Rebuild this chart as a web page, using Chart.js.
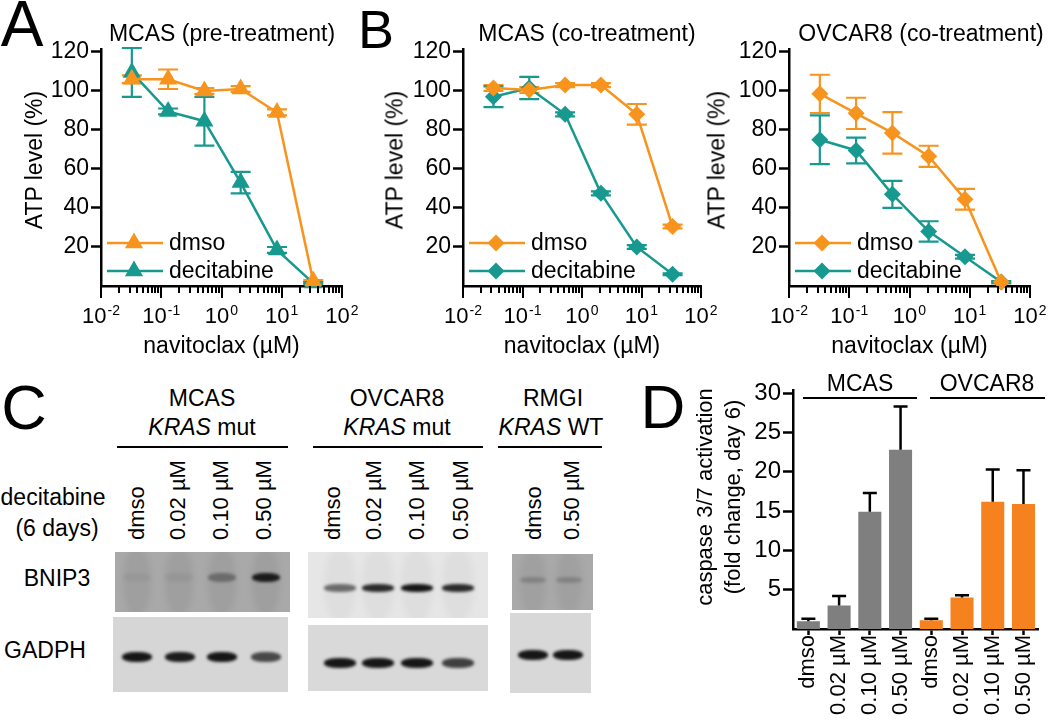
<!DOCTYPE html>
<html>
<head>
<meta charset="utf-8">
<script src="https://cdn.jsdelivr.net/npm/chart.js@4.4.0/dist/chart.umd.min.js"></script>
<style>
  body { margin: 0; background: #fff; }
  #fig { position: relative; width: 1050px; height: 724px; overflow: hidden;
         font-family: "Liberation Sans", Arial, sans-serif; color: #000; }
  #fig canvas { position: absolute; }
  .t { position: absolute; white-space: nowrap; line-height: 1; transform: translate(-50%, -50%); }
  .r { position: absolute; white-space: nowrap; line-height: 1; transform: translate(-50%, -50%) rotate(-90deg); }
  .lane { position: absolute; white-space: nowrap; line-height: 1; transform-origin: 0 0;
          transform: rotate(-90deg) translate(0, -50%); }
  .rule { position: absolute; height: 2px; background: #000; }
  .blot { position: absolute; overflow: hidden; }
  .band { position: absolute; border-radius: 45%; filter: blur(1.6px); }
</style>
</head>
<body>
<div id="fig"></div>
<script>
// ---- data ----
const doses = [0.0325, 0.13, 0.52, 2.08, 8.33, 33.3];   // navitoclax, µM

// A: MCAS pre-treatment
const preDmso = [106, 106, 100, 101, 89, 2.5];
const preDmsoErr = [2, 5, 1.5, 1.5, 1.5, 0.5];
const preDec = [109.5, 89.5, 84.5, 53, 18.5, 1.5];
const preDecErr = [12.5, 1.5, 12.5, 5.5, 1.5, 0.5];

// B: MCAS co-treatment
const coMcasDmso = [101.5, 100.5, 103, 103, 88, 30.5];
const coMcasDmsoErr = [1.5, 1.5, 1, 1, 5.3, 1];
const coMcasDec = [97, 101.5, 88, 47.5, 20, 6];
const coMcasDecErr = [5.3, 5.7, 1, 1, 1, 0.5];

// B: OVCAR8 co-treatment
const coOvDmso = [98.5, 88.5, 78.5, 66.5, 44.5, 2];
const coOvDmsoErr = [9.8, 8, 10.6, 5.4, 5.3, 0.5];
const coOvDec = [75, 69.5, 47, 28, 15, 2];
const coOvDecErr = [12.5, 6.6, 6.9, 5.2, 1, 0.5];

const atpTicks = [20, 40, 60, 80, 100, 120];
const decades = [-2, -1, 0, 1, 2];

// D: caspase 3/7 activation
const caspLabels = ['dmso', '0.02 µM', '0.10 µM', '0.50 µM', 'dmso', '0.02 µM', '0.10 µM', '0.50 µM'];
const mcasCasp = [1.0, 3.0, 14.9, 22.8];
const mcasCaspErr = [0.3, 1.2, 2.4, 5.5];
const ovcarCasp = [1.1, 4.0, 16.2, 15.9];
const ovcarCaspErr = [0.2, 0.3, 4.1, 4.3];
const caspTicks = [5, 10, 15, 20, 25, 30];

// C: blot band densities (0..1)
const mcasBnip3 = [0.04, 0.06, 0.35, 0.9];
const mcasGapdh = [0.95, 0.92, 0.95, 0.7];
const ovBnip3 = [0.55, 0.85, 0.95, 0.85];
const ovGapdh = [0.95, 0.95, 0.95, 0.75];
const rmgiBnip3 = [0.2, 0.2];
const rmgiGapdh = [0.95, 0.95];

const ORANGE = '#F7941D', TEAL = '#17998F', GRAY = '#7F7F7F', BAR_ORANGE = '#F5821F';
const FONT = '"Liberation Sans", Arial, sans-serif';
Chart.defaults.font.family = FONT;
Chart.defaults.color = '#000';

const fig = document.getElementById('fig');

function addText(html, cx, cy, size, cls) {
  const d = document.createElement('div');
  d.className = cls || 't';
  d.style.left = cx + 'px';
  d.style.top = cy + 'px';
  d.style.fontSize = size + 'px';
  d.innerHTML = html;
  fig.appendChild(d);
  return d;
}
function addRule(x1, x2, y) {
  const d = document.createElement('div');
  d.className = 'rule';
  d.style.left = x1 + 'px'; d.style.width = (x2 - x1) + 'px'; d.style.top = y + 'px';
  fig.appendChild(d);
}
function addCanvas(x, y, w, h) {
  const cv = document.createElement('canvas');
  cv.width = w; cv.height = h;
  cv.style.left = x + 'px'; cv.style.top = y + 'px';
  fig.appendChild(cv);
  return cv;
}

function marker(ctx, style, x, y, r) {
  ctx.beginPath();
  if (style === 'triangle') {
    ctx.moveTo(x, y - r);
    ctx.lineTo(x + r * 0.866, y + r / 2);
    ctx.lineTo(x - r * 0.866, y + r / 2);
  } else {
    ctx.moveTo(x, y - r); ctx.lineTo(x + r, y); ctx.lineTo(x, y + r); ctx.lineTo(x - r, y);
  }
  ctx.closePath();
  ctx.fill();
}

// error bars under the curves
const errorBars = {
  id: 'errorBars',
  beforeDatasetsDraw(chart) {
    const ctx = chart.ctx, ys = chart.scales.y;
    chart.data.datasets.forEach((ds, di) => {
      const meta = chart.getDatasetMeta(di);
      ctx.save();
      ctx.strokeStyle = ds.borderColor;
      ctx.lineWidth = 2.2;
      meta.data.forEach((pt, i) => {
        const v = ds.data[i].y, e = ds.err[i];
        const hi = ys.getPixelForValue(v + e), lo = ys.getPixelForValue(v - e);
        ctx.beginPath();
        ctx.moveTo(pt.x, hi); ctx.lineTo(pt.x, lo);
        ctx.moveTo(pt.x - 10, hi); ctx.lineTo(pt.x + 10, hi);
        ctx.moveTo(pt.x - 10, lo); ctx.lineTo(pt.x + 10, lo);
        ctx.stroke();
      });
      ctx.restore();
    });
  }
};

// log axis: major/minor ticks, 10^n labels, title
const logAxis = {
  id: 'logAxis',
  afterDraw(chart, args, opts) {
    const xs = chart.scales.x, ctx = chart.ctx, y0 = chart.chartArea.bottom;
    ctx.save();
    ctx.strokeStyle = '#000';
    ctx.lineWidth = 2;
    for (let e = -2; e <= 2; e++) {
      for (let m = 1; m <= 9; m++) {
        if (e === 2 && m > 1) break;
        const px = Math.round(xs.getPixelForValue(m * Math.pow(10, e)));
        ctx.beginPath();
        ctx.moveTo(px, y0);
        ctx.lineTo(px, y0 + (m === 1 ? 12 : 7));
        ctx.stroke();
      }
    }
    ctx.fillStyle = '#000';
    ctx.textAlign = 'left';
    ctx.textBaseline = 'alphabetic';
    decades.forEach(e => {
      const px = xs.getPixelForValue(Math.pow(10, e));
      const sup = String(e);
      ctx.font = '22px ' + FONT;
      const w1 = ctx.measureText('10').width;
      ctx.font = '14px ' + FONT;
      const w2 = ctx.measureText(sup).width;
      const x0 = px - (w1 + w2 + 1) / 2;
      ctx.font = '22px ' + FONT;
      ctx.fillText('10', x0, y0 + 37);
      ctx.font = '14px ' + FONT;
      ctx.fillText(sup, x0 + w1 + 1, y0 + 29);
    });
    ctx.font = '23px ' + FONT;
    ctx.textAlign = 'center';
    const a = chart.chartArea;
    ctx.fillText(opts.title, (a.left + a.right) / 2, y0 + 67);
    ctx.restore();
  }
};

// legend inside the plot, lower left
const insideLegend = {
  id: 'insideLegend',
  afterDraw(chart) {
    const ctx = chart.ctx, a = chart.chartArea;
    ctx.save();
    chart.data.datasets.forEach((ds, i) => {
      const y = a.bottom - 43 + i * 28;
      ctx.strokeStyle = ds.borderColor;
      ctx.fillStyle = ds.borderColor;
      ctx.lineWidth = 2.5;
      ctx.beginPath();
      ctx.moveTo(a.left + 6, y); ctx.lineTo(a.left + 62, y);
      ctx.stroke();
      marker(ctx, ds.pointStyle, a.left + 33, y, ds.pointRadius);
      ctx.fillStyle = '#000';
      ctx.font = '23px ' + FONT;
      ctx.textAlign = 'left';
      ctx.textBaseline = 'middle';
      ctx.fillText(ds.label, a.left + 68, y + 1);
    });
    ctx.restore();
  }
};

function curveChart(box, area, style, series) {
  const cv = addCanvas(box.x, box.y, box.w, box.h);
  const radius = style === 'triangle' ? 10.5 : 8.5;
  return new Chart(cv, {
    type: 'line',
    data: {
      datasets: series.map(s => ({
        label: s.label,
        data: doses.map((d, i) => ({ x: d, y: s.values[i] })),
        err: s.err,
        borderColor: s.color,
        backgroundColor: s.color,
        borderWidth: 2.5,
        pointStyle: style,
        pointRadius: radius,
        pointBorderWidth: 0,
        tension: 0,
        clip: false
      }))
    },
    options: {
      responsive: false,
      animation: false,
      devicePixelRatio: 1,
      events: [],
      layout: { padding: { top: area.top, right: area.right, left: 0, bottom: 0 } },
      plugins: { legend: { display: false }, tooltip: { enabled: false },
                 logAxis: { title: 'navitoclax (µM)' } },
      scales: {
        x: {
          type: 'logarithmic', min: 0.01, max: 100,
          afterFit: s => { s.height = area.xh; },
          ticks: { display: false },
          grid: { display: false },
          border: { display: true, color: '#000', width: 2.5 }
        },
        y: {
          min: 0, max: 121.5,
          afterFit: s => { s.width = area.yw; },
          afterBuildTicks: s => { s.ticks = atpTicks.map(v => ({ value: v })); },
          ticks: { font: { size: 23 }, color: '#000', padding: 2 },
          grid: { drawOnChartArea: false, tickLength: 10, tickWidth: 2.5, tickColor: '#000' },
          border: { color: '#000', width: 2.5 }
        }
      }
    },
    plugins: [errorBars, logAxis, insideLegend]
  });
}

// ---- panel A ----
curveChart({ x: 0, y: 0, w: 370, h: 370 }, { top: 49, right: 28, yw: 101, xh: 84 }, 'triangle', [
  { label: 'dmso', values: preDmso, err: preDmsoErr, color: ORANGE },
  { label: 'decitabine', values: preDec, err: preDecErr, color: TEAL }
]);
// ---- panel B ----
curveChart({ x: 340, y: 0, w: 390, h: 370 }, { top: 49, right: 29, yw: 123, xh: 84 }, 'rectRot', [
  { label: 'dmso', values: coMcasDmso, err: coMcasDmsoErr, color: ORANGE },
  { label: 'decitabine', values: coMcasDec, err: coMcasDecErr, color: TEAL }
]);
curveChart({ x: 700, y: 0, w: 350, h: 370 }, { top: 49, right: 20, yw: 89, xh: 84 }, 'rectRot', [
  { label: 'dmso', values: coOvDmso, err: coOvDmsoErr, color: ORANGE },
  { label: 'decitabine', values: coOvDec, err: coOvDecErr, color: TEAL }
]);

addText('A', 22, 24, 64);
addText('B', 376, 29, 54);
addText('MCAS (pre-treatment)', 222, 33, 23);
addText('MCAS (co-treatment)', 587, 33, 23);
addText('OVCAR8 (co-treatment)', 921, 33, 23);
addText('ATP level (%)', 34, 160, 23, 'r');
addText('ATP level (%)', 395, 160, 23, 'r');
addText('ATP level (%)', 717, 160, 23, 'r');

// ---- panel D ----
const barErrors = {
  id: 'barErrors',
  afterDatasetsDraw(chart) {
    const ctx = chart.ctx, ys = chart.scales.y;
    chart.data.datasets.forEach((ds, di) => {
      const meta = chart.getDatasetMeta(di);
      ctx.save();
      ctx.strokeStyle = '#000';
      ctx.lineWidth = 2.5;
      meta.data.forEach((bar, i) => {
        const top = ys.getPixelForValue(ds.data[i] + ds.err[i]);
        ctx.beginPath();
        ctx.moveTo(bar.x, bar.y); ctx.lineTo(bar.x, top);
        ctx.moveTo(bar.x - 7, top); ctx.lineTo(bar.x + 7, top);
        ctx.stroke();
      });
      ctx.restore();
    });
  }
};

new Chart(addCanvas(640, 370, 410, 354), {
  type: 'bar',
  data: {
    labels: caspLabels,
    datasets: [{
      data: mcasCasp.concat(ovcarCasp),
      err: mcasCaspErr.concat(ovcarCaspErr),
      backgroundColor: mcasCasp.map(() => GRAY).concat(ovcarCasp.map(() => BAR_ORANGE)),
      barPercentage: 0.75,
      categoryPercentage: 1
    }]
  },
  options: {
    responsive: false,
    animation: false,
    devicePixelRatio: 1,
    events: [],
    layout: { padding: { top: 20, right: 2, left: 0, bottom: 0 } },
    plugins: { legend: { display: false }, tooltip: { enabled: false } },
    scales: {
      x: {
        afterFit: s => { s.height = 95; },
        grid: { offset: false, drawOnChartArea: false, tickLength: 6, tickWidth: 2.5, tickColor: '#000' },
        border: { color: '#000', width: 2.5 },
        ticks: { font: { size: 22 }, color: '#000', minRotation: 90, maxRotation: 90, autoSkip: false, padding: 0 }
      },
      y: {
        min: 0, max: 30.4,
        afterFit: s => { s.width = 153; },
        afterBuildTicks: s => { s.ticks = caspTicks.map(v => ({ value: v })); },
        ticks: { font: { size: 24 }, color: '#000', padding: 2 },
        grid: { drawOnChartArea: false, tickLength: 10, tickWidth: 2.5, tickColor: '#000' },
        border: { color: '#000', width: 2.5 }
      }
    }
  },
  plugins: [barErrors]
});

addText('D', 663, 407, 62);
addText('MCAS', 860, 383, 23);
addText('OVCAR8', 987, 383, 23);
addRule(803, 917, 397);
addRule(930, 1045, 397);
addText('caspase 3/7 activation', 705, 497, 22, 'r');
addText('(fold change, day 6)', 733, 497, 22, 'r');

// ---- panel C (western blots) ----
addText('C', 24, 407, 63);
addText('MCAS', 202, 398, 23);
addText('<i>KRAS</i> mut', 202, 427, 23);
addRule(117, 288, 446);
addText('OVCAR8', 397, 398, 23);
addText('<i>KRAS</i> mut', 397, 427, 23);
addRule(313, 483, 446);
addText('RMGI', 553, 398, 23);
addText('<i>KRAS</i> WT', 551, 427, 23);
addRule(498, 602, 446);
addText('decitabine', 53, 497, 23);
addText('(6 days)', 57, 528, 23);
addText('BNIP3', 57, 578, 23);
addText('GADPH', 45, 650, 23);

const laneNames = ['dmso', '0.02 µM', '0.10 µM', '0.50 µM'];
[137, 178, 221, 264].forEach((x, i) => addText(laneNames[i], x, 540, 22, 'lane'));
[333, 374, 417, 461].forEach((x, i) => addText(laneNames[i], x, 540, 22, 'lane'));
[534, 572].forEach((x, i) => addText(laneNames[i * 3], x, 540, 22, 'lane'));

function addBlot(x, y, w, h, bg, lanes, bandY, dens, bw, bh, smear) {
  const b = document.createElement('div');
  b.className = 'blot';
  b.style.left = x + 'px'; b.style.top = y + 'px';
  b.style.width = w + 'px'; b.style.height = h + 'px';
  b.style.background = bg;
  lanes.forEach((cx, i) => {
    if (smear) {
      const s = document.createElement('div');
      s.className = 'band';
      s.style.left = (cx - x - bw / 2) + 'px'; s.style.top = '-4px';
      s.style.width = bw + 'px'; s.style.height = (h + 8) + 'px';
      s.style.background = 'rgba(0,0,0,' + smear + ')';
      s.style.filter = 'blur(3px)';
      b.appendChild(s);
    }
    const d = document.createElement('div');
    d.className = 'band';
    d.style.left = (cx - x - bw / 2) + 'px'; d.style.top = (bandY - y - bh / 2) + 'px';
    d.style.width = bw + 'px'; d.style.height = bh + 'px';
    d.style.background = 'rgba(12,12,12,' + dens[i] + ')';
    b.appendChild(d);
  });
  fig.appendChild(b);
}
addBlot(115, 552, 175, 60, '#a9a9a9', [137, 179, 222, 266], 577, mcasBnip3, 28, 9, 0.06);
addBlot(113, 617, 175, 75, '#d6d6d6', [137, 180, 222, 266], 657, mcasGapdh, 30, 10, 0);
addBlot(308, 552, 180, 66, '#e6e6e6', [340, 378, 417, 458], 588, ovBnip3, 32, 8, 0.03);
addBlot(308, 625, 180, 66, '#d9d9d9', [340, 378, 417, 458], 663, ovGapdh, 32, 10, 0);
addBlot(512, 554, 81, 56, '#a9a9a9', [533, 569], 580, rmgiBnip3, 26, 6, 0.05);
addBlot(510, 613, 81, 80, '#d8d8d8', [533, 568], 655, rmgiGapdh, 30, 10, 0);
</script>
</body>
</html>
